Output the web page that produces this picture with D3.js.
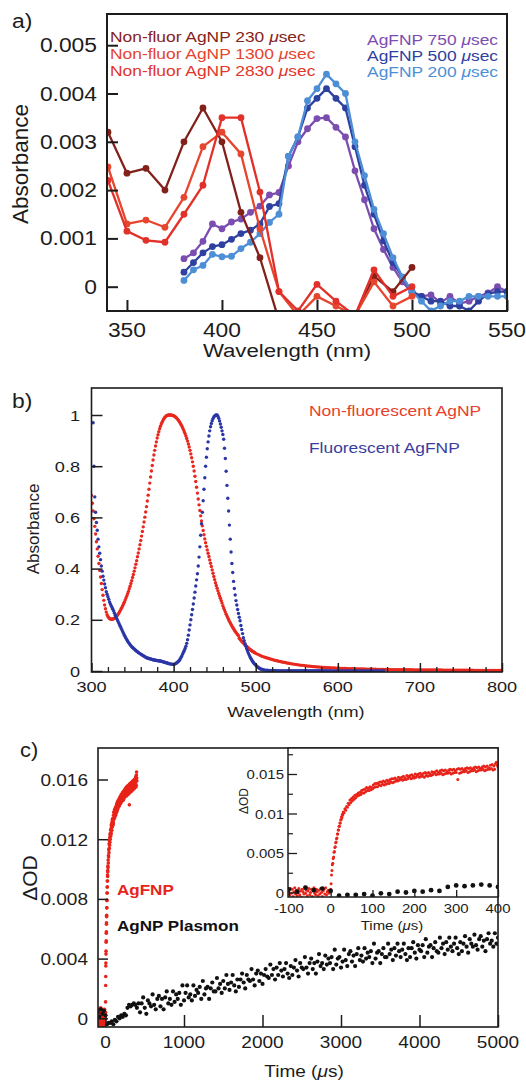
<!DOCTYPE html>
<html><head><meta charset="utf-8">
<script src="https://cdn.jsdelivr.net/npm/d3@7"></script>
<style>body{margin:0;background:#fff}svg{display:block}text{font-family:"Liberation Sans",Arial,Helvetica,sans-serif}</style>
</head><body><svg id="c" width="526" height="1082"></svg>
<script>
// ---------------- Panel a data ----------------
const aRedWl = [340,350,360,370,380,390,400,410,420,430,440,450,460,470,480,490,500];
const nonFluor230 = [0.0032,0.00235,0.00245,0.002,0.003,0.0037,0.003,0.00154,0.0006,-0.0007,-0.0009,-0.0008,-0.0008,-0.0006,0.00022,-0.0001,0.0004];
const nonFluor1300 = [0.00248,0.0013,0.00138,0.00123,0.00185,0.0029,0.0032,0.00275,0.0012,-0.0001,-0.0006,-0.0002,-0.0004,-0.0006,0.0001,-0.0004,-0.0002];
const nonFluor2830 = [0.0022,0.00115,0.00096,0.00092,0.0015,0.0021,0.0035,0.0035,0.00196,-0.0001,-0.0005,0.00005,-0.0003,-0.0006,0.00035,-0.0002,0.0];
const aBlueWl = [380,385,390,395,400,405,410,415,420,425,430,435,440,445,450,455,460,465,470,475,480,485,490,495,500,505,510,515,520,525,530,535,540,545,550];
const agfnp750 = [0.00058,0.0007,0.00094,0.0013,0.0012,0.00134,0.0014,0.00154,0.00167,0.0019,0.00195,0.0025,0.003,0.00327,0.00348,0.0035,0.0033,0.0031,0.0024,0.0018,0.0012,0.00077,0.0004,0.0001,-0.00012,-0.0002,-0.00017,-0.00033,-0.0002,-0.00035,-0.0003,-0.0002,-0.00013,0.0,-0.0001];
const agfnp500 = [0.0003,0.0005,0.0007,0.00083,0.00087,0.00098,0.0011,0.00117,0.0013,0.00166,0.00172,0.0027,0.0031,0.0037,0.0039,0.0041,0.0039,0.0037,0.0029,0.0021,0.0015,0.00095,0.0005,0.0002,-0.0001,-0.0002,-0.0003,-0.0003,-0.0004,-0.0004,-0.0005,-0.0003,-0.00015,-0.0001,-0.0001];
const agfnp200 = [0.00013,0.00035,0.00044,0.00067,0.00062,0.00063,0.00079,0.00092,0.0011,0.00133,0.0015,0.0027,0.0031,0.00385,0.0041,0.0044,0.0042,0.004,0.003,0.0023,0.0016,0.0011,0.0006,0.0002,-0.0001,-0.0003,-0.0005,-0.0004,-0.0003,-0.0003,-0.0002,-0.0002,-0.0002,-0.0002,-0.0002];
const aXTicks = [350,400,450,500,550];
const aYTicks = [0,0.001,0.002,0.003,0.004,0.005];
const aYLabels = ["0","0.001","0.002","0.003","0.004","0.005"];
const aLegendLeft = ["Non-fluor AgNP 230 μsec","Non-fluor AgNP 1300 μsec","Non-fluor AgNP 2830 μsec"];
const aLegendRight = ["AgFNP 750 μsec","AgFNP 500 μsec","AgFNP 200 μsec"];

// ---------------- Panel b data ----------------
const nonFluorWl = d3.range(300,500,1).concat(d3.range(500,801,2));
const nonFluorAbs = [
0.686,0.655,0.625,0.595,0.565,0.535,0.505,0.477,0.448,0.42,
0.393,0.367,0.342,0.318,0.296,0.276,0.258,0.243,0.23,0.22,
0.213,0.208,0.205,0.203,0.202,0.202,0.203,0.204,0.206,0.209,
0.212,0.216,0.22,0.225,0.23,0.236,0.242,0.248,0.255,0.262,
0.269,0.277,0.285,0.293,0.302,0.311,0.321,0.331,0.342,0.353,
0.365,0.377,0.39,0.403,0.417,0.431,0.446,0.461,0.477,0.493,
0.51,0.527,0.545,0.563,0.582,0.601,0.621,0.642,0.664,0.687,
0.71,0.734,0.758,0.781,0.803,0.824,0.844,0.862,0.879,0.895,
0.91,0.923,0.935,0.946,0.956,0.965,0.972,0.979,0.985,0.989,
0.993,0.996,0.998,0.999,1.0,1.0,1.0,1.0,0.999,0.998,
0.997,0.995,0.993,0.99,0.987,0.983,0.979,0.974,0.969,0.963,
0.957,0.95,0.943,0.935,0.927,0.918,0.908,0.898,0.887,0.875,
0.862,0.848,0.833,0.817,0.8,0.781,0.761,0.74,0.718,0.695,
0.672,0.649,0.627,0.606,0.586,0.567,0.549,0.532,0.516,0.501,
0.487,0.473,0.46,0.447,0.434,0.421,0.408,0.395,0.382,0.369,
0.357,0.345,0.334,0.323,0.313,0.303,0.293,0.284,0.275,0.266,
0.255,0.246,0.238,0.23,0.222,0.215,0.208,0.201,0.194,0.188,
0.182,0.176,0.17,0.165,0.16,0.155,0.15,0.146,0.142,0.138,
0.128,0.124,0.12,0.116,0.112,0.109,0.105,0.102,0.099,0.096,
0.093,0.09,0.087,0.084,0.082,0.079,0.077,0.075,0.073,0.071,
0.069,0.066,0.063,0.06,0.057,0.055,0.053,0.051,0.049,0.047,
0.045,0.043,0.041,0.04,0.038,0.037,0.035,0.034,0.033,0.031,
0.03,0.029,0.028,0.027,0.026,0.025,0.024,0.023,0.022,0.022,
0.021,0.02,0.019,0.019,0.018,0.017,0.017,0.016,0.016,0.015,
0.015,0.014,0.014,0.013,0.013,0.013,0.012,0.012,0.012,0.011,
0.011,
0.011,0.01,0.01,0.01,0.01,0.009,0.009,0.009,0.009,0.009,
0.008,0.008,0.008,0.008,0.008,0.008,0.007,0.007,0.007,0.007,
0.007,0.007,0.007,0.006,0.006,0.006,0.006,0.006,0.006,0.006,
0.006,0.005,0.005,0.005,0.005,0.005,0.005,0.005,0.005,0.005,
0.005,0.005,0.005,0.005,0.005,0.004,0.004,0.004,0.004,0.004,
0.004,0.004,0.004,0.004,0.004,0.004,0.004,0.004,0.004,0.004,
0.004,0.004,0.004,0.003,0.003,0.003,0.003,0.003,0.003,0.003,
0.003,0.003,0.003,0.003,0.003,0.003,0.003,0.003,0.003,0.003,
0.003,0.003,0.002,0.002,0.002,0.002,0.002,0.002,0.002,0.002,
0.002,0.002,0.002,0.002,0.002,0.002,0.002,0.002,0.002,0.002];
const fluorWl = d3.range(302,511,1).concat(d3.range(512,657,2));
const fluorAbs = [
0.97,0.80,0.68,0.62,0.58,0.55,0.515,0.485,
0.46,0.435,0.41,0.39,0.37,0.355,0.34,0.325,0.31,0.3,
0.29,0.28,0.27,0.262,0.255,0.248,0.241,0.234,0.226,0.218,
0.21,0.203,0.196,0.189,0.182,0.175,0.168,0.161,0.154,0.147,
0.14,0.134,0.128,0.122,0.117,0.112,0.107,0.103,0.099,0.095,
0.092,0.089,0.086,0.083,0.08,0.077,0.075,0.072,0.07,0.068,
0.066,0.064,0.062,0.06,0.058,0.056,0.054,0.052,0.051,0.05,
0.049,0.048,0.047,0.046,0.045,0.044,0.043,0.043,0.042,0.041,
0.041,0.04,0.04,0.039,0.039,0.038,0.037,0.036,0.035,0.034,
0.033,0.032,0.031,0.03,0.029,0.028,0.028,0.027,0.027,0.026,
0.026,0.027,0.028,0.03,0.032,0.035,0.038,0.042,0.047,0.053,
0.059,0.066,0.073,0.08,0.088,0.097,0.108,0.122,0.14,0.16,
0.18,0.2,0.22,0.24,0.262,0.285,0.308,0.332,0.356,0.38,
0.41,0.445,0.485,0.53,0.575,0.62,0.665,0.71,0.755,0.8,
0.835,0.868,0.895,0.918,0.938,0.954,0.967,0.978,0.986,0.992,
0.996,0.999,1.0,1.0,0.995,0.987,0.977,0.965,0.952,0.938,
0.924,0.905,0.87,0.83,0.78,0.725,0.675,0.625,0.57,0.515,
0.465,0.42,0.385,0.35,0.322,0.297,0.275,0.258,0.24,0.225,
0.21,0.196,0.178,0.162,0.146,0.13,0.118,0.107,0.097,0.087,
0.078,0.07,0.063,0.056,0.05,0.044,0.039,0.034,0.03,0.026,
0.023,0.02,0.017,0.014,0.012,0.01,0.008,0.007,0.006,0.005,
0.004,
0.003,0.003,0.002,0.002,0.002,0.002,0.002,0.001,0.001,0.001,
0.001,0.001,0.001,0.001,0.001,0.001,0.001,0.001,0.001,0.001,
0.001,0.001,0.001,0.001,0.001,0.001,0.001,0.001,0.001,0.001,
0.001,0.001,0.001,0.001,0.001,0.001,0.001,0.001,0.001,0.001,
0.0,0.0,0.0,0.0,0.0,0.0,0.0,0.0,0.0,0.0,
0.0,0.0,0.0,0.0,0.0,0.0,0.0,0.0,0.0,0.0,
0.0,0.0,0.0,0.0,0.0,0.0,0.0,0.0,0.0,0.0,
0.0,0.0,0.0];
const bXMajor = [300,400,500,600,700,800];
const bXMinor = d3.range(320,800,20).filter(v => v % 100 !== 0);
const bYTicks = [0,0.2,0.4,0.6,0.8,1];
const bYLabels = ["0","0.2","0.4","0.6","0.8","1"];

// ---------------- Panel c data (ΔOD × 10^4) ----------------
const agfnpTime = d3.range(-100,0,2).concat(d3.range(0,30,1)).concat(d3.range(30,401,2));
const agfnpDOD_e4 = [
2,-3,5,-1,4,-5,1,6,-2,3,-4,0,5,-3,2,-6,4,1,-2,7,-1,3,-4,2,5,-3,0,4,-5,2,6,-1,-3,4,1,-4,3,-2,5,0,-5,2,4,-2,6,-3,1,3,-1,2,
4,11,22,28,35,37,43,45,51,52,57,58,63,64,68,69,74,74,79,79,84,84,88,88,92,92,96,95,99,98,
102,101,106,104,109, 108,113,111,117,114, 119,116,121,118,123, 120,124,122,126,123,
127,124,129,126,130, 126,131,128,133,129, 132,129,134,130,133, 131,136,133,138,134,
138,134,139,136,140, 135,140,137,141,136, 140,137,142,138,141, 138,143,140,144,139,
144,140,145,141,143, 141,146,142,145,144, 146,142,147,143,145, 143,148,144,147,146,
148,144,149,145,147, 145,150,146,149,148, 150,146,151,147,149, 147,151,146,152,148,
151,147,152,148,150, 148,153,149,152,151, 153,149,154,150,152, 150,154,151,155,149,
154,150,155,151,153, 151,155,152,156,150, 155,151,156,152,154, 152,156,143,157,151,
156,152,157,153,155, 153,157,154,158,152, 157,153,158,154,156, 154,158,155,159,153,
158,154,159,155,157, 155,159,156,160,154, 159,155,160,156,158, 156,161,157,162,155,
160,156,163,165,161, 159];
const plasmonTime = d3.range(-100,5001,20);
const plasmonDOD_e4 = [
4,1,6,3,5,2,-4,-3,-3,-2,-4,-1,-2,1,0,2,1,3,2,7,9,8,9,10,9,7,
10,4,10,14,7,3,12,10,8,16,9,6,13,15,8,13,6,14,18,10,13,9,18,11,16,13,17,9,22,12,
17,22,14,16,12,22,15,19,17,21,13,25,16,20,21,13,20,24,18,18,27,20,23,17,25,20,29,23,19,24,
29,22,18,26,21,26,30,24,20,29,26,25,33,26,22,30,32,25,30,23,
29,33,28,27,36,29,33,26,34,29,37,32,28,33,37,30,27,35,29,34,39,32,28,37,34,33,41,34,30,37,
40,33,37,30,38,43,35,37,33,42,36,40,37,41,33,46,36,40,41,34,
38,46,39,35,43,45,38,42,35,43,47,39,42,38,47,40,44,41,45,37,50,40,44,45,37,43,47,41,41,50,
43,46,39,47,42,50,45,41,46,50,43,39,47,41,47,51,44,40,49,46,
45,49,41,53,44,48,49,41,47,51,45,44,54,47,50,43,51,46,54,48,45,50,54,47,43,51,45,50,55,48,
44,53,50,48,56,49,46,53,55,48,52,45,53,57,50,52,48,57,50,54];
const cXTicks = [0,1000,2000,3000,4000,5000];
const cYTicks = [0,0.004,0.008,0.012,0.016];
const cYLabels = ["0","0.004","0.008","0.012","0.016"];
const iXTicks = [-100,0,100,200,300,400];
const iYMajor = [0,0.005,0.01,0.015];
const iYLabels = ["0","0.005","0.01","0.015"];
const iYMinor = [0.0025,0.0075,0.0125,0.0175];

// ---------------- helpers ----------------
const svg = d3.select('#c');
svg.append('rect').attr('width',526).attr('height',1082).attr('fill','#fff');
const INK = '#1c1c1c';
function T(g, x, y, str, o = {}) {
  const t = g.append('text')
    .attr('transform', `translate(${x},${y})` + (o.rot ? ` rotate(${o.rot})` : '') + ` scale(${o.k ?? 1},${o.ky ?? 1})`)
    .attr('font-size', o.size || 14)
    .attr('text-anchor', o.anchor || 'start')
    .attr('fill', o.fill || INK);
  if (o.bold) t.attr('font-weight', 'bold');
  const parts = str.split('μ');
  parts.forEach((p, i) => {
    if (i > 0) t.append('tspan').attr('font-style', 'italic').text('μ');
    if (p) t.append('tspan').text(p);
  });
  return t;
}
function ticks(g, axisFn, scale, vals, size, tx, ty, sw) {
  const a = g.append('g').attr('transform', `translate(${tx},${ty})`)
    .call(axisFn(scale).tickValues(vals).tickSize(size).tickFormat(''));
  a.select('.domain').remove();
  a.selectAll('line').attr('stroke', INK).attr('stroke-width', sw);
  return a;
}

// ================= Panel a =================
(function(){
  const g = svg.append('g');
  const L = 107, Tp = 14, R = 507, B = 311;
  const x = d3.scaleLinear().domain([339.5, 550]).range([L, R]);
  const y = d3.scaleLinear().domain([0, 0.005]).range([286.7, 45.2]);
  g.append('clipPath').attr('id','clipA').append('rect').attr('x',L).attr('y',Tp).attr('width',R-L).attr('height',B-Tp);
  const series = [
    {wl: aBlueWl, v: agfnp750, c: '#7b4db0'},
    {wl: aBlueWl, v: agfnp500, c: '#2e40a0'},
    {wl: aBlueWl, v: agfnp200, c: '#4d8fd6'},
    {wl: aRedWl, v: nonFluor230, c: '#82201a'},
    {wl: aRedWl, v: nonFluor1300, c: '#e6452e'},
    {wl: aRedWl, v: nonFluor2830, c: '#e2302a'}
  ];
  const dg = g.append('g').attr('clip-path','url(#clipA)');
  series.forEach(s => {
    const pts = s.wl.map((w,i) => [w, s.v[i]]);
    dg.append('path').datum(pts)
      .attr('d', d3.line().x(d => x(d[0])).y(d => y(d[1])))
      .attr('fill','none').attr('stroke', s.c).attr('stroke-width', 2.3).attr('stroke-linejoin','round');
    dg.append('g').selectAll('circle').data(pts).join('circle')
      .attr('cx', d => x(d[0])).attr('cy', d => y(d[1])).attr('r', 3.4).attr('fill', s.c);
  });
  ticks(g, d3.axisBottom, x, aXTicks, -11, 0, B, 2);
  ticks(g, d3.axisLeft, y, aYTicks, -11, L, 0, 2);
  g.append('rect').attr('x',L).attr('y',Tp).attr('width',R-L).attr('height',B-Tp)
    .attr('fill','none').attr('stroke',INK).attr('stroke-width',2);
  aXTicks.forEach(v => T(g, x(v), 337, String(v), {size:19.5, k:1.17, anchor:'middle'}));
  aYTicks.forEach((v,i) => T(g, 97, y(v)+7, aYLabels[i], {size:19.5, k:1.17, anchor:'end'}));
  T(g, 287, 357, 'Wavelength (nm)', {size:19, k:1.17, anchor:'middle'});
  T(g, 28, 164, 'Absorbance', {size:22.5, rot:-90, anchor:'middle'});
  T(g, 12, 28, 'a)', {size:19.5, k:1.17});
  const lc = ['#862218','#e5452e','#e2352a'];
  aLegendLeft.forEach((s,i) => T(g, 110, [42,59,76][i], s, {size:14.5, k:1.2, fill: lc[i]}));
  const rc = ['#7b4db0','#2e40a0','#4d8fd6'];
  aLegendRight.forEach((s,i) => T(g, 498, [45,61,77][i], s, {size:14.5, k:1.2, fill: rc[i], anchor:'end'}));
})();

// ================= Panel b =================
(function(){
  const g = svg.append('g');
  const L = 91.5, Tp = 388, R = 502, B = 672;
  const x = d3.scaleLinear().domain([300, 800]).range([L, R]);
  const y = d3.scaleLinear().domain([0, 1]).range([671, 415]);
  g.append('clipPath').attr('id','clipB').append('rect').attr('x',L).attr('y',Tp).attr('width',R-L).attr('height',B-Tp);
  const dg = g.append('g').attr('clip-path','url(#clipB)');
  dg.append('g').selectAll('circle').data(nonFluorWl.map((w,i)=>[w,nonFluorAbs[i]])).join('circle')
    .attr('cx', d => x(d[0])).attr('cy', d => y(d[1])).attr('r', 1.7).attr('fill', '#e8281e');
  dg.append('g').selectAll('circle').data(fluorWl.map((w,i)=>[w,fluorAbs[i]])).join('circle')
    .attr('cx', d => x(d[0])).attr('cy', d => y(d[1])).attr('r', 1.7).attr('fill', '#2b36a6');
  ticks(g, d3.axisBottom, x, bXMajor, -9, 0, B, 1.5);
  ticks(g, d3.axisBottom, x, bXMinor, -5, 0, B, 1.3);
  ticks(g, d3.axisLeft, y, bYTicks, -11, L, 0, 1.5);
  g.append('rect').attr('x',L).attr('y',Tp).attr('width',R-L).attr('height',B-Tp)
    .attr('fill','none').attr('stroke',INK).attr('stroke-width',1.6);
  bXMajor.forEach(v => T(g, x(v), 692, String(v), {size:15.5, k:1.17, anchor:'middle'}));
  bYTicks.forEach((v,i) => T(g, 80, y(v)+5.5, bYLabels[i], {size:15.5, k:1.17, anchor:'end'}));
  T(g, 296, 717, 'Wavelength (nm)', {size:15.5, k:1.17, anchor:'middle'});
  T(g, 38.5, 529, 'Absorbance', {size:17, rot:-90, anchor:'middle'});
  T(g, 12, 408, 'b)', {size:19.5, k:1.17});
  T(g, 309, 416, 'Non-fluorescent AgNP', {size:15, k:1.16, fill:'#e8402c'});
  T(g, 309, 453, 'Fluorescent AgFNP', {size:15, k:1.16, fill:'#3a3ea0'});
})();

// ================= Panel c =================
(function(){
  const g = svg.append('g');
  const L = 98, Tp = 748, R = 498, B = 1027;
  const x = d3.scaleLinear().domain([0, 5000]).range([105.5, 498]);
  const y = d3.scaleLinear().domain([0, 0.016]).range([1018.3, 779.5]);
  const red = agfnpTime.map((t,i) => [t, agfnpDOD_e4[i]*1e-4]);
  const blk = plasmonTime.map((t,i) => [t, plasmonDOD_e4[i]*1e-4]);
  g.append('clipPath').attr('id','clipC').append('rect').attr('x',L).attr('y',Tp).attr('width',R-L).attr('height',B-Tp);
  const dg = g.append('g').attr('clip-path','url(#clipC)');
  dg.append('g').selectAll('circle').data(red).join('circle')
    .attr('cx', d => x(d[0])).attr('cy', d => y(d[1])).attr('r', 1.8).attr('fill', '#e8231a');
  dg.append('g').selectAll('circle').data(blk).join('circle')
    .attr('cx', d => x(d[0])).attr('cy', d => y(d[1])).attr('r', 2.1).attr('fill', '#111');
  ticks(g, d3.axisBottom, x, cXTicks, -12, 0, B, 1.5);
  ticks(g, d3.axisLeft, y, cYTicks, -10, L, 0, 1.5);
  g.append('rect').attr('x',L).attr('y',Tp).attr('width',R-L).attr('height',B-Tp)
    .attr('fill','none').attr('stroke',INK).attr('stroke-width',1.6);
  cXTicks.forEach(v => T(g, x(v), 1048, String(v), {size:17, k:1.12, anchor:'middle'}));
  cYTicks.forEach((v,i) => T(g, 88, y(v)+6.5, cYLabels[i], {size:17, k:1.12, anchor:'end'}));
  T(g, 304, 1077, 'Time (μs)', {size:17, k:1.12, anchor:'middle'});
  T(g, 37, 878, 'ΔOD', {size:21, rot:-90, anchor:'middle'});
  T(g, 20, 757, 'c)', {size:19.5, k:1.12});
  T(g, 117, 895, 'AgFNP', {size:15.5, k:1.1, bold:true, fill:'#e8231a'});
  T(g, 117, 931, 'AgNP Plasmon', {size:15.5, k:1.1, bold:true, fill:'#111'});

  // inset
  const iL = 288, iT = 748, iR = 498, iB = 897;
  const xi = d3.scaleLinear().domain([-102, 400]).range([iL, iR]);
  const yi = d3.scaleLinear().domain([0, 0.015]).range([892.5, 774]);
  g.append('rect').attr('x',iL).attr('y',iT).attr('width',iR-iL).attr('height',iB-iT).attr('fill','#fff');
  g.append('clipPath').attr('id','clipI').append('rect').attr('x',iL).attr('y',iT).attr('width',iR-iL).attr('height',iB-iT);
  const ig = g.append('g').attr('clip-path','url(#clipI)');
  ig.append('g').selectAll('circle').data(red).join('circle')
    .attr('cx', d => xi(d[0])).attr('cy', d => yi(d[1])).attr('r', 1.5).attr('fill', '#e8231a');
  ig.append('g').selectAll('circle').data(blk.filter(d => d[0] <= 420)).join('circle')
    .attr('cx', d => xi(d[0])).attr('cy', d => yi(d[1])).attr('r', 2.4).attr('fill', '#111');
  ticks(g, d3.axisBottom, xi, iXTicks, -7, 0, iB, 1.3);
  ticks(g, d3.axisLeft, yi, iYMajor, -9, iL, 0, 1.3);
  ticks(g, d3.axisLeft, yi, iYMinor, -5, iL, 0, 1.2);
  g.append('rect').attr('x',iL).attr('y',iT).attr('width',iR-iL).attr('height',iB-iT)
    .attr('fill','none').attr('stroke',INK).attr('stroke-width',1.5);
  iXTicks.forEach(v => T(g, xi(v), 913, String(v), {size:13, k:1.15, anchor:'middle'}));
  iYMajor.forEach((v,i) => T(g, 284, yi(v)+5, iYLabels[i], {size:13, k:1.15, anchor:'end'}));
  T(g, 392, 930, 'Time (μs)', {size:13, k:1.15, anchor:'middle'});
  T(g, 248, 801, 'ΔOD', {size:12, rot:-90, anchor:'middle'});
})();
</script></body></html>
